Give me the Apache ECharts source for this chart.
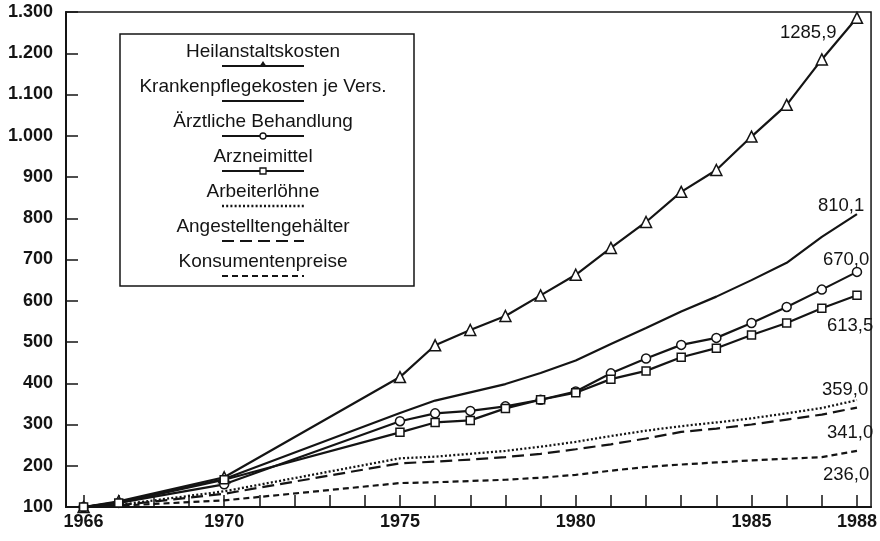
<!DOCTYPE html>
<html><head><meta charset="utf-8">
<script src="https://cdn.jsdelivr.net/npm/echarts@6/dist/echarts.min.js"></script>
<style>html,body{margin:0;padding:0;background:#fff}#c{width:880px;height:541px}</style>
</head><body><div id="c"></div>
<script>
// ---- data ----
const years = [1966,1967,1970,1975,1976,1977,1978,1979,1980,1981,1982,1983,1984,1985,1986,1987,1988];
const seriesNames = ['Heilanstaltskosten','Krankenpflegekosten je Vers.','Ärztliche Behandlung','Arzneimittel','Arbeiterlöhne','Angestelltengehälter','Konsumentenpreise'];
const heilanstalt = [100,114,172,415,492,529,563,613,663,728,791,864,917,998,1075,1185,1285.9];
const krankenpflege = [100,112,168,328,358,378,398,425,455,495,534,574,610,650,692,755,810.1];
const aerztlich = [100,110,155,308,327,333,344,360,380,424,460,493,510,546,585,627,670.0];
const arzneimittel = [100,110,166,281,305,310,339,360,377,410,430,463,485,517,546,582,613.5];
const arbeiterloehne = [100,105,138,218,222,229,236,246,258,272,285,296,305,315,327,340,359.0];
const angestellten = [100,104,132,206,210,215,221,229,240,252,266,282,290,300,312,324,341.0];
const konsumenten = [100,103,116,158,160,163,166,171,178,188,197,203,208,213,217,221,236.0];
const xLabelYears = [1966,1970,1975,1980,1985,1988];
const xTickYears = [1966,1967,1968,1969,1970,1971,1972,1973,1974,1975,1976,1977,1978,1979,1980,1981,1982,1983,1984,1985,1986,1987,1988];

// ---- styles (no data) ----
const allValues = [heilanstalt,krankenpflege,aerztlich,arzneimittel,arbeiterloehne,angestellten,konsumenten];
const styles = [
  {symbol:'triangle', size:11, dash:'solid', width:2.2, lab:[-77,15]},
  {symbol:'none', size:0, dash:'solid', width:2.2, lab:[-39,-8]},
  {symbol:'circle', size:9, dash:'solid', width:2.2, lab:[-34,-12]},
  {symbol:'rect', size:8, dash:'solid', width:2.2, lab:[-30,31]},
  {symbol:'none', size:0, dash:[2,2.2], width:2.3, lab:[-35,-10]},
  {symbol:'none', size:0, dash:[12,6], width:2.2, lab:[-30,25]},
  {symbol:'none', size:0, dash:[6,4], width:2.2, lab:[-34,24]}
];
const INK = '#141414';
const FONT = '"Liberation Sans", Arial, Helvetica, sans-serif';
const fmtDe = v => v.toFixed(1).replace('.', ',');
const fmtAxis = v => v >= 1000 ? Math.floor(v/1000) + '.' + String(v % 1000).padStart(3,'0') : String(v);

const series = allValues.map((vals, i) => {
  const s = styles[i];
  return {
    name: seriesNames[i],
    type: 'line',
    data: years.map((y, k) => [y, vals[k]]),
    symbol: s.symbol,
    symbolSize: s.size,
    showAllSymbol: true,
    lineStyle: {color: INK, width: s.width, type: s.dash},
    itemStyle: {color: '#fff', borderColor: INK, borderWidth: 1.5},
    endLabel: {
      show: true, distance: 0, offset: s.lab,
      formatter: p => fmtDe(p.value[1]),
      color: INK, fontSize: 18.5, fontFamily: FONT
    },
    emphasis: {disabled: true},
    z: 3
  };
});

// ---- legend drawn as graphic (text above sample line) ----
const legendEls = [{
  type: 'rect', shape: {x: 120, y: 34, width: 294, height: 252},
  style: {fill: '#fff', stroke: INK, lineWidth: 1.5}, z: 10
}];
seriesNames.forEach((name, i) => {
  const ty = 52 + 35 * i;
  const ly = ty + 14;
  const s = styles[i];
  legendEls.push({type: 'text', z: 11, style: {text: name, x: 263, y: ty, textAlign: 'center', textVerticalAlign: 'middle', font: '19px ' + FONT, fill: INK}});
  legendEls.push({type: 'line', z: 11, shape: {x1: 222, y1: ly, x2: 304, y2: ly}, style: {stroke: INK, lineWidth: s.width, lineDash: s.dash === 'solid' ? null : s.dash}});
  if (s.symbol === 'triangle') legendEls.push({type: 'polygon', z: 12, shape: {points: [[263, ly-5],[259, ly+1],[267, ly+1]]}, style: {fill: INK}});
  if (s.symbol === 'circle') legendEls.push({type: 'circle', z: 12, shape: {cx: 263, cy: ly, r: 3}, style: {fill: '#fff', stroke: INK, lineWidth: 1.3}});
  if (s.symbol === 'rect') legendEls.push({type: 'rect', z: 12, shape: {x: 260, y: ly-3, width: 6, height: 6}, style: {fill: '#fff', stroke: INK, lineWidth: 1.3}});
});

const chart = echarts.init(document.getElementById('c'), null, {renderer: 'canvas'});
chart.setOption({
  animation: false,
  backgroundColor: '#fff',
  grid: {left: 66, right: 5, top: 12, bottom: 34, show: true, borderColor: INK, borderWidth: 1.5, backgroundColor: 'transparent'},
  xAxis: {
    type: 'value', min: 1965.5, max: 1988.4,
    axisLine: {show: true, lineStyle: {color: INK, width: 2}},
    axisTick: {show: true, inside: true, length: 12, customValues: xTickYears, lineStyle: {color: INK, width: 1.5}},
    axisLabel: {customValues: xLabelYears, formatter: v => String(v), color: INK, fontSize: 18, fontWeight: 'bold', fontFamily: FONT, margin: 6},
    splitLine: {show: false}
  },
  yAxis: {
    type: 'value', min: 100, max: 1300, interval: 100,
    axisLine: {show: true, lineStyle: {color: INK, width: 2}},
    axisTick: {show: true, inside: true, length: 12, lineStyle: {color: INK, width: 1.5}},
    axisLabel: {formatter: fmtAxis, color: INK, fontSize: 18, fontWeight: 'bold', fontFamily: FONT, margin: 13},
    splitLine: {show: false}
  },
  series: series,
  graphic: legendEls
});
</script></body></html>
